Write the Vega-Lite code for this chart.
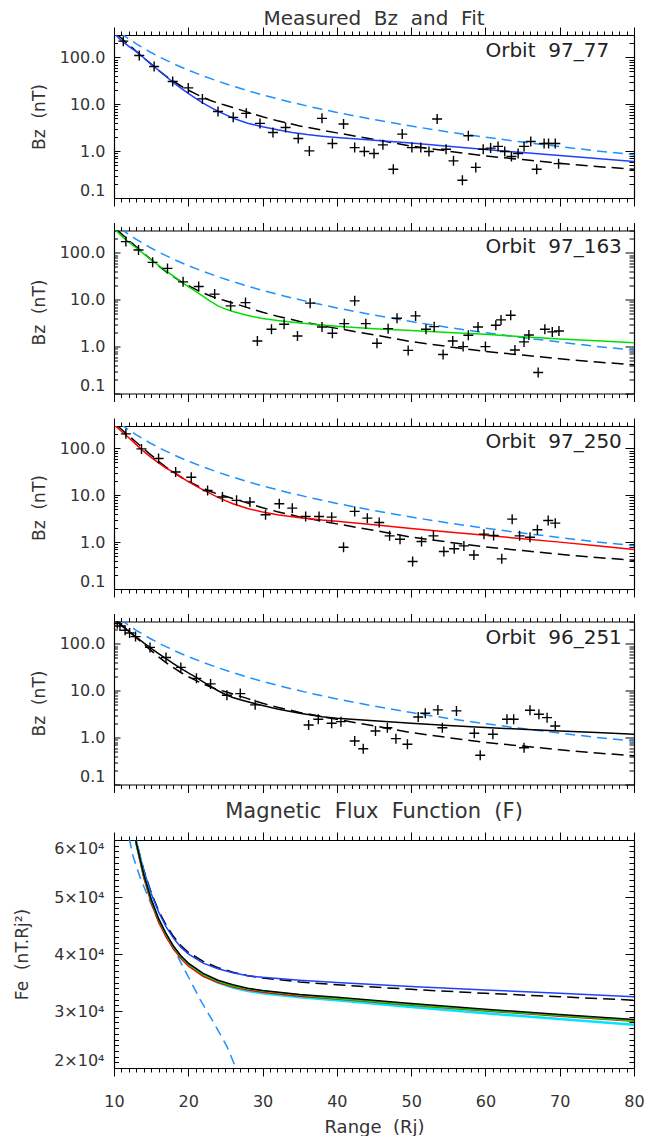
{
  "$schema": "https://vega.github.io/schema/vega-lite/v6.json",
  "padding": {"left": 12, "top": 8, "right": 5, "bottom": 0},
  "background": "white",
  "config": {
    "view": {"stroke": null},
    "font": "DejaVu Sans",
    "axis": {"domainColor": "#000", "domainWidth": 1.2, "tickColor": "#000", "tickWidth": 1, "labelFont": "DejaVu Sans", "labelFontSize": 16, "labelColor": "#333", "titleFont": "DejaVu Sans", "titleFontSize": 17, "titleFontWeight": "normal", "titleColor": "#333", "grid": false, "labelOverlap": false, "labelBound": false},
    "title": {"font": "DejaVu Sans", "fontWeight": "normal", "color": "#333"}
  },
  "datasets": {
    "dip": [
      {"r": 10.8, "b": 339.8}, {"r": 11, "b": 321.6}, {"r": 11.5, "b": 281.4}, {"r": 12, "b": 247.7}, {"r": 13, "b": 194.8}, {"r": 14, "b": 156.0}, {"r": 15, "b": 126.8}, {"r": 16, "b": 104.5}, {"r": 17, "b": 87.1}, {"r": 18, "b": 73.4}, {"r": 19, "b": 62.4}, {"r": 20, "b": 53.5}, {"r": 22, "b": 40.2}, {"r": 24, "b": 30.96}, {"r": 26, "b": 24.35}, {"r": 28, "b": 19.5}, {"r": 30, "b": 15.85}, {"r": 33, "b": 11.91}, {"r": 36, "b": 9.17}, {"r": 40, "b": 6.69}, {"r": 45, "b": 4.7}, {"r": 50, "b": 3.42}, {"r": 55, "b": 2.57}, {"r": 60, "b": 1.98}, {"r": 65, "b": 1.56}, {"r": 70, "b": 1.25}, {"r": 75, "b": 1.01}, {"r": 80, "b": 0.836}
    ],
    "mod": [
      {"r": 10.5, "b": 300}, {"r": 11, "b": 255}, {"r": 12, "b": 185}, {"r": 13, "b": 135}, {"r": 14, "b": 98}, {"r": 15, "b": 72}, {"r": 16, "b": 53}, {"r": 17, "b": 40}, {"r": 18, "b": 31}, {"r": 19, "b": 24.5}, {"r": 20, "b": 20}, {"r": 21, "b": 16.6}, {"r": 22, "b": 14}, {"r": 23, "b": 12}, {"r": 24, "b": 10.6}, {"r": 25, "b": 9.5}, {"r": 26, "b": 8.5}, {"r": 28, "b": 6.8}, {"r": 30, "b": 5.4}, {"r": 32, "b": 4.45}, {"r": 35, "b": 3.45}, {"r": 38, "b": 2.8}, {"r": 40, "b": 2.45}, {"r": 45, "b": 1.78}, {"r": 50, "b": 1.28}, {"r": 55, "b": 1.0}, {"r": 60, "b": 0.79}, {"r": 65, "b": 0.66}, {"r": 70, "b": 0.55}, {"r": 75, "b": 0.47}, {"r": 80, "b": 0.41}
    ],
    "fit": [
      {"o": "97_77", "r": 10, "b": 330}, {"o": "97_77", "r": 11, "b": 227}, {"o": "97_77", "r": 12, "b": 171}, {"o": "97_77", "r": 13, "b": 132}, {"o": "97_77", "r": 14, "b": 98}, {"o": "97_77", "r": 15, "b": 72}, {"o": "97_77", "r": 16, "b": 53}, {"o": "97_77", "r": 17, "b": 39}, {"o": "97_77", "r": 18, "b": 29}, {"o": "97_77", "r": 19, "b": 22}, {"o": "97_77", "r": 20, "b": 17}, {"o": "97_77", "r": 21, "b": 13.3}, {"o": "97_77", "r": 22, "b": 10.6}, {"o": "97_77", "r": 23, "b": 8.6}, {"o": "97_77", "r": 24, "b": 7.1}, {"o": "97_77", "r": 25, "b": 6.0}, {"o": "97_77", "r": 26, "b": 5.1}, {"o": "97_77", "r": 27, "b": 4.45}, {"o": "97_77", "r": 28, "b": 3.95}, {"o": "97_77", "r": 29, "b": 3.6}, {"o": "97_77", "r": 30, "b": 3.3}, {"o": "97_77", "r": 32, "b": 2.85}, {"o": "97_77", "r": 34, "b": 2.5}, {"o": "97_77", "r": 36, "b": 2.25}, {"o": "97_77", "r": 38, "b": 2.08}, {"o": "97_77", "r": 40, "b": 1.95}, {"o": "97_77", "r": 45, "b": 1.71}, {"o": "97_77", "r": 50, "b": 1.49}, {"o": "97_77", "r": 55, "b": 1.27}, {"o": "97_77", "r": 60, "b": 1.08}, {"o": "97_77", "r": 65, "b": 0.93}, {"o": "97_77", "r": 70, "b": 0.81}, {"o": "97_77", "r": 75, "b": 0.7}, {"o": "97_77", "r": 80, "b": 0.6},
      {"o": "97_163", "r": 10, "b": 330}, {"o": "97_163", "r": 11, "b": 230}, {"o": "97_163", "r": 12, "b": 170}, {"o": "97_163", "r": 13, "b": 127}, {"o": "97_163", "r": 14, "b": 95}, {"o": "97_163", "r": 15, "b": 71}, {"o": "97_163", "r": 16, "b": 54}, {"o": "97_163", "r": 17, "b": 41.5}, {"o": "97_163", "r": 18, "b": 32}, {"o": "97_163", "r": 19, "b": 24.5}, {"o": "97_163", "r": 20, "b": 19}, {"o": "97_163", "r": 21, "b": 15}, {"o": "97_163", "r": 22, "b": 11.8}, {"o": "97_163", "r": 23, "b": 9.2}, {"o": "97_163", "r": 24, "b": 7.4}, {"o": "97_163", "r": 25, "b": 6.3}, {"o": "97_163", "r": 26, "b": 5.6}, {"o": "97_163", "r": 28, "b": 4.6}, {"o": "97_163", "r": 30, "b": 4.0}, {"o": "97_163", "r": 32, "b": 3.6}, {"o": "97_163", "r": 35, "b": 3.2}, {"o": "97_163", "r": 38, "b": 2.88}, {"o": "97_163", "r": 40, "b": 2.72}, {"o": "97_163", "r": 45, "b": 2.42}, {"o": "97_163", "r": 50, "b": 2.2}, {"o": "97_163", "r": 55, "b": 2.0}, {"o": "97_163", "r": 60, "b": 1.83}, {"o": "97_163", "r": 65, "b": 1.63}, {"o": "97_163", "r": 70, "b": 1.46}, {"o": "97_163", "r": 75, "b": 1.33}, {"o": "97_163", "r": 80, "b": 1.21},
      {"o": "97_250", "r": 10, "b": 320}, {"o": "97_250", "r": 11, "b": 232}, {"o": "97_250", "r": 12, "b": 168}, {"o": "97_250", "r": 13, "b": 120}, {"o": "97_250", "r": 14, "b": 86}, {"o": "97_250", "r": 15, "b": 64}, {"o": "97_250", "r": 16, "b": 49}, {"o": "97_250", "r": 17, "b": 38}, {"o": "97_250", "r": 18, "b": 31}, {"o": "97_250", "r": 19, "b": 24.5}, {"o": "97_250", "r": 20, "b": 19.5}, {"o": "97_250", "r": 21, "b": 15.8}, {"o": "97_250", "r": 22, "b": 13}, {"o": "97_250", "r": 23, "b": 10.8}, {"o": "97_250", "r": 24, "b": 9.0}, {"o": "97_250", "r": 25, "b": 7.7}, {"o": "97_250", "r": 26, "b": 6.6}, {"o": "97_250", "r": 28, "b": 5.2}, {"o": "97_250", "r": 30, "b": 4.4}, {"o": "97_250", "r": 32, "b": 3.85}, {"o": "97_250", "r": 35, "b": 3.3}, {"o": "97_250", "r": 38, "b": 2.95}, {"o": "97_250", "r": 40, "b": 2.8}, {"o": "97_250", "r": 45, "b": 2.35}, {"o": "97_250", "r": 50, "b": 1.96}, {"o": "97_250", "r": 55, "b": 1.65}, {"o": "97_250", "r": 60, "b": 1.4}, {"o": "97_250", "r": 65, "b": 1.18}, {"o": "97_250", "r": 70, "b": 1.0}, {"o": "97_250", "r": 75, "b": 0.84}, {"o": "97_250", "r": 80, "b": 0.7},
      {"o": "96_251", "r": 10, "b": 360}, {"o": "96_251", "r": 11, "b": 245}, {"o": "96_251", "r": 12, "b": 185}, {"o": "96_251", "r": 13, "b": 140}, {"o": "96_251", "r": 14, "b": 105}, {"o": "96_251", "r": 15, "b": 80}, {"o": "96_251", "r": 16, "b": 62}, {"o": "96_251", "r": 17, "b": 48.5}, {"o": "96_251", "r": 18, "b": 38}, {"o": "96_251", "r": 19, "b": 30}, {"o": "96_251", "r": 20, "b": 24}, {"o": "96_251", "r": 21, "b": 19.5}, {"o": "96_251", "r": 22, "b": 15.5}, {"o": "96_251", "r": 23, "b": 12.4}, {"o": "96_251", "r": 24, "b": 10}, {"o": "96_251", "r": 25, "b": 8.3}, {"o": "96_251", "r": 26, "b": 7.2}, {"o": "96_251", "r": 27, "b": 6.4}, {"o": "96_251", "r": 28, "b": 5.8}, {"o": "96_251", "r": 29, "b": 5.3}, {"o": "96_251", "r": 30, "b": 4.85}, {"o": "96_251", "r": 32, "b": 4.1}, {"o": "96_251", "r": 35, "b": 3.3}, {"o": "96_251", "r": 38, "b": 2.8}, {"o": "96_251", "r": 40, "b": 2.6}, {"o": "96_251", "r": 45, "b": 2.28}, {"o": "96_251", "r": 50, "b": 2.02}, {"o": "96_251", "r": 55, "b": 1.82}, {"o": "96_251", "r": 60, "b": 1.65}, {"o": "96_251", "r": 65, "b": 1.5}, {"o": "96_251", "r": 70, "b": 1.38}, {"o": "96_251", "r": 75, "b": 1.28}, {"o": "96_251", "r": 80, "b": 1.18}
    ],
    "obs": [
      {"o": "97_77", "r": 11.25, "b": 222}, {"o": "97_77", "r": 13.4, "b": 110}, {"o": "97_77", "r": 15.4, "b": 63.8}, {"o": "97_77", "r": 17.9, "b": 30.5}, {"o": "97_77", "r": 20.0, "b": 22.3}, {"o": "97_77", "r": 21.9, "b": 13.0}, {"o": "97_77", "r": 24.0, "b": 7.0}, {"o": "97_77", "r": 26.05, "b": 5.25}, {"o": "97_77", "r": 27.8, "b": 6.4}, {"o": "97_77", "r": 29.65, "b": 3.9}, {"o": "97_77", "r": 31.4, "b": 2.5}, {"o": "97_77", "r": 33.1, "b": 3.2}, {"o": "97_77", "r": 34.8, "b": 1.86}, {"o": "97_77", "r": 36.3, "b": 1.01}, {"o": "97_77", "r": 38.0, "b": 5.0}, {"o": "97_77", "r": 39.4, "b": 1.45}, {"o": "97_77", "r": 40.9, "b": 3.78}, {"o": "97_77", "r": 42.4, "b": 1.19}, {"o": "97_77", "r": 43.7, "b": 0.98}, {"o": "97_77", "r": 45.0, "b": 0.89}, {"o": "97_77", "r": 46.2, "b": 1.36}, {"o": "97_77", "r": 47.6, "b": 0.41}, {"o": "97_77", "r": 48.8, "b": 2.31}, {"o": "97_77", "r": 50.1, "b": 1.19}, {"o": "97_77", "r": 51.3, "b": 1.19}, {"o": "97_77", "r": 52.4, "b": 0.98}, {"o": "97_77", "r": 53.5, "b": 4.84}, {"o": "97_77", "r": 54.7, "b": 1.1}, {"o": "97_77", "r": 55.7, "b": 0.62}, {"o": "97_77", "r": 56.9, "b": 0.24}, {"o": "97_77", "r": 57.7, "b": 2.13}, {"o": "97_77", "r": 58.7, "b": 0.45}, {"o": "97_77", "r": 59.7, "b": 1.1}, {"o": "97_77", "r": 60.7, "b": 1.16}, {"o": "97_77", "r": 61.7, "b": 1.26}, {"o": "97_77", "r": 62.6, "b": 0.98}, {"o": "97_77", "r": 63.5, "b": 0.77}, {"o": "97_77", "r": 64.4, "b": 0.89}, {"o": "97_77", "r": 65.2, "b": 1.26}, {"o": "97_77", "r": 66.1, "b": 1.61}, {"o": "97_77", "r": 66.9, "b": 0.41}, {"o": "97_77", "r": 67.9, "b": 1.45}, {"o": "97_77", "r": 68.5, "b": 1.45}, {"o": "97_77", "r": 69.4, "b": 1.45}, {"o": "97_77", "r": 69.85, "b": 0.54},
      {"o": "97_163", "r": 11.6, "b": 174}, {"o": "97_163", "r": 13.3, "b": 115}, {"o": "97_163", "r": 15.2, "b": 62.7}, {"o": "97_163", "r": 17.2, "b": 46.6}, {"o": "97_163", "r": 19.3, "b": 24.1}, {"o": "97_163", "r": 21.4, "b": 19.2}, {"o": "97_163", "r": 23.55, "b": 13.2}, {"o": "97_163", "r": 25.7, "b": 7.4}, {"o": "97_163", "r": 27.7, "b": 8.7}, {"o": "97_163", "r": 29.3, "b": 1.32}, {"o": "97_163", "r": 31.2, "b": 2.34}, {"o": "97_163", "r": 32.9, "b": 3.0}, {"o": "97_163", "r": 34.7, "b": 1.69}, {"o": "97_163", "r": 36.4, "b": 8.45}, {"o": "97_163", "r": 38.0, "b": 2.63}, {"o": "97_163", "r": 39.4, "b": 1.93}, {"o": "97_163", "r": 41.0, "b": 3.09}, {"o": "97_163", "r": 42.4, "b": 9.46}, {"o": "97_163", "r": 43.9, "b": 3.09}, {"o": "97_163", "r": 45.4, "b": 1.18}, {"o": "97_163", "r": 46.9, "b": 2.42}, {"o": "97_163", "r": 48.1, "b": 4.04}, {"o": "97_163", "r": 49.6, "b": 0.83}, {"o": "97_163", "r": 50.6, "b": 4.52}, {"o": "97_163", "r": 52.0, "b": 2.34}, {"o": "97_163", "r": 53.1, "b": 2.67}, {"o": "97_163", "r": 54.3, "b": 0.68}, {"o": "97_163", "r": 55.6, "b": 1.32}, {"o": "97_163", "r": 57.0, "b": 1.0}, {"o": "97_163", "r": 57.7, "b": 1.75}, {"o": "97_163", "r": 59.0, "b": 2.63}, {"o": "97_163", "r": 60.0, "b": 1.0}, {"o": "97_163", "r": 61.4, "b": 2.86}, {"o": "97_163", "r": 62.1, "b": 3.72}, {"o": "97_163", "r": 63.4, "b": 4.68}, {"o": "97_163", "r": 63.97, "b": 0.85}, {"o": "97_163", "r": 65.2, "b": 1.26}, {"o": "97_163", "r": 65.85, "b": 1.77}, {"o": "97_163", "r": 67.1, "b": 0.28}, {"o": "97_163", "r": 68.0, "b": 2.34}, {"o": "97_163", "r": 69.0, "b": 2.06}, {"o": "97_163", "r": 69.9, "b": 2.16},
      {"o": "97_250", "r": 11.6, "b": 204}, {"o": "97_250", "r": 13.7, "b": 97.5}, {"o": "97_250", "r": 16.0, "b": 60.8}, {"o": "97_250", "r": 18.3, "b": 31.4}, {"o": "97_250", "r": 20.4, "b": 24.2}, {"o": "97_250", "r": 22.6, "b": 12.6}, {"o": "97_250", "r": 24.6, "b": 9.15}, {"o": "97_250", "r": 26.5, "b": 7.78}, {"o": "97_250", "r": 28.3, "b": 7.15}, {"o": "97_250", "r": 30.4, "b": 3.85}, {"o": "97_250", "r": 32.25, "b": 6.6}, {"o": "97_250", "r": 34.0, "b": 5.3}, {"o": "97_250", "r": 35.8, "b": 3.53}, {"o": "97_250", "r": 37.6, "b": 3.53}, {"o": "97_250", "r": 39.3, "b": 3.41}, {"o": "97_250", "r": 40.9, "b": 0.78}, {"o": "97_250", "r": 42.4, "b": 4.52}, {"o": "97_250", "r": 44.1, "b": 3.25}, {"o": "97_250", "r": 45.7, "b": 2.63}, {"o": "97_250", "r": 47.1, "b": 1.36}, {"o": "97_250", "r": 48.5, "b": 1.15}, {"o": "97_250", "r": 50.2, "b": 0.385}, {"o": "97_250", "r": 51.4, "b": 1.03}, {"o": "97_250", "r": 53.0, "b": 1.36}, {"o": "97_250", "r": 54.4, "b": 0.63}, {"o": "97_250", "r": 55.8, "b": 0.72}, {"o": "97_250", "r": 57.1, "b": 0.83}, {"o": "97_250", "r": 58.45, "b": 0.53}, {"o": "97_250", "r": 59.8, "b": 1.48}, {"o": "97_250", "r": 61.1, "b": 1.38}, {"o": "97_250", "r": 62.2, "b": 0.44}, {"o": "97_250", "r": 63.6, "b": 3.09}, {"o": "97_250", "r": 64.6, "b": 1.36}, {"o": "97_250", "r": 66.0, "b": 1.27}, {"o": "97_250", "r": 67.0, "b": 1.83}, {"o": "97_250", "r": 68.45, "b": 2.9}, {"o": "97_250", "r": 69.4, "b": 2.54},
      {"o": "96_251", "r": 10.45, "b": 270}, {"o": "96_251", "r": 10.8, "b": 240}, {"o": "96_251", "r": 11.5, "b": 195}, {"o": "96_251", "r": 12.1, "b": 170}, {"o": "96_251", "r": 12.9, "b": 143}, {"o": "96_251", "r": 14.85, "b": 84}, {"o": "96_251", "r": 17.0, "b": 51}, {"o": "96_251", "r": 19.0, "b": 31.5}, {"o": "96_251", "r": 21.1, "b": 18.4}, {"o": "96_251", "r": 23.0, "b": 14.0}, {"o": "96_251", "r": 25.2, "b": 8.0}, {"o": "96_251", "r": 27.0, "b": 8.7}, {"o": "96_251", "r": 29.0, "b": 5.0}, {"o": "96_251", "r": 36.2, "b": 1.86}, {"o": "96_251", "r": 37.5, "b": 2.47}, {"o": "96_251", "r": 39.3, "b": 2.02}, {"o": "96_251", "r": 40.55, "b": 2.19}, {"o": "96_251", "r": 42.4, "b": 0.85}, {"o": "96_251", "r": 43.55, "b": 0.58}, {"o": "96_251", "r": 45.2, "b": 1.38}, {"o": "96_251", "r": 46.8, "b": 1.63}, {"o": "96_251", "r": 47.95, "b": 0.95}, {"o": "96_251", "r": 49.5, "b": 0.72}, {"o": "96_251", "r": 50.95, "b": 2.76}, {"o": "96_251", "r": 51.9, "b": 3.31}, {"o": "96_251", "r": 53.6, "b": 3.9}, {"o": "96_251", "r": 54.2, "b": 1.63}, {"o": "96_251", "r": 56.1, "b": 3.72}, {"o": "96_251", "r": 58.5, "b": 1.24}, {"o": "96_251", "r": 59.3, "b": 0.42}, {"o": "96_251", "r": 61.0, "b": 1.18}, {"o": "96_251", "r": 62.9, "b": 2.47}, {"o": "96_251", "r": 63.8, "b": 2.47}, {"o": "96_251", "r": 65.2, "b": 0.61}, {"o": "96_251", "r": 66.0, "b": 3.85}, {"o": "96_251", "r": 67.2, "b": 3.16}, {"o": "96_251", "r": 68.3, "b": 2.67}, {"o": "96_251", "r": 69.4, "b": 1.77}
    ],
    "fe": [
      {"s": "dip", "r": 11.6, "f": 63000}, {"s": "dip", "r": 12, "f": 60500}, {"s": "dip", "r": 12.6, "f": 57000}, {"s": "dip", "r": 13.5, "f": 53500}, {"s": "dip", "r": 14.6, "f": 50000}, {"s": "dip", "r": 15.75, "f": 46500}, {"s": "dip", "r": 17.1, "f": 43000}, {"s": "dip", "r": 18.4, "f": 40000}, {"s": "dip", "r": 19.8, "f": 36500}, {"s": "dip", "r": 21.6, "f": 32000}, {"s": "dip", "r": 23.4, "f": 28000}, {"s": "dip", "r": 25.2, "f": 23800}, {"s": "dip", "r": 26.4, "f": 20000}, {"s": "dip", "r": 27.5, "f": 17500},
      {"s": "mod", "r": 12.7, "f": 62000}, {"s": "mod", "r": 13, "f": 59800}, {"s": "mod", "r": 14, "f": 54800}, {"s": "mod", "r": 15, "f": 50800}, {"s": "mod", "r": 16, "f": 47600}, {"s": "mod", "r": 17, "f": 45100}, {"s": "mod", "r": 18, "f": 43100}, {"s": "mod", "r": 19, "f": 41500}, {"s": "mod", "r": 20, "f": 40300}, {"s": "mod", "r": 22, "f": 38700}, {"s": "mod", "r": 24, "f": 37600}, {"s": "mod", "r": 26, "f": 36800}, {"s": "mod", "r": 28, "f": 36200}, {"s": "mod", "r": 30, "f": 35800}, {"s": "mod", "r": 35, "f": 35100}, {"s": "mod", "r": 40, "f": 34600}, {"s": "mod", "r": 50, "f": 33800}, {"s": "mod", "r": 60, "f": 33100}, {"s": "mod", "r": 70, "f": 32500}, {"s": "mod", "r": 80, "f": 31900},
      {"s": "97_77", "r": 12.7, "f": 62000}, {"s": "97_77", "r": 13, "f": 59800}, {"s": "97_77", "r": 14, "f": 54700}, {"s": "97_77", "r": 15, "f": 50600}, {"s": "97_77", "r": 16, "f": 47400}, {"s": "97_77", "r": 17, "f": 44800}, {"s": "97_77", "r": 18, "f": 42800}, {"s": "97_77", "r": 19, "f": 41200}, {"s": "97_77", "r": 20, "f": 40000}, {"s": "97_77", "r": 22, "f": 38400}, {"s": "97_77", "r": 24, "f": 37400}, {"s": "97_77", "r": 26, "f": 36700}, {"s": "97_77", "r": 28, "f": 36200}, {"s": "97_77", "r": 30, "f": 35900}, {"s": "97_77", "r": 35, "f": 35400}, {"s": "97_77", "r": 40, "f": 35000}, {"s": "97_77", "r": 50, "f": 34300}, {"s": "97_77", "r": 60, "f": 33700}, {"s": "97_77", "r": 70, "f": 33100}, {"s": "97_77", "r": 80, "f": 32500},
      {"s": "96_251", "r": 12.7, "f": 62000}, {"s": "96_251", "r": 13, "f": 59500}, {"s": "96_251", "r": 14, "f": 54000}, {"s": "96_251", "r": 15, "f": 49600}, {"s": "96_251", "r": 16, "f": 46200}, {"s": "96_251", "r": 17, "f": 43600}, {"s": "96_251", "r": 18, "f": 41400}, {"s": "96_251", "r": 19, "f": 39700}, {"s": "96_251", "r": 20, "f": 38400}, {"s": "96_251", "r": 22, "f": 36600}, {"s": "96_251", "r": 24, "f": 35400}, {"s": "96_251", "r": 26, "f": 34600}, {"s": "96_251", "r": 28, "f": 34000}, {"s": "96_251", "r": 30, "f": 33600}, {"s": "96_251", "r": 35, "f": 32900}, {"s": "96_251", "r": 40, "f": 32400}, {"s": "96_251", "r": 50, "f": 31300}, {"s": "96_251", "r": 60, "f": 30300}, {"s": "96_251", "r": 70, "f": 29400}, {"s": "96_251", "r": 80, "f": 28500},
      {"s": "97_163", "r": 12.7, "f": 62000}, {"s": "97_163", "r": 13, "f": 59400}, {"s": "97_163", "r": 14, "f": 53800}, {"s": "97_163", "r": 15, "f": 49400}, {"s": "97_163", "r": 16, "f": 46000}, {"s": "97_163", "r": 17, "f": 43400}, {"s": "97_163", "r": 18, "f": 41200}, {"s": "97_163", "r": 19, "f": 39500}, {"s": "97_163", "r": 20, "f": 38200}, {"s": "97_163", "r": 22, "f": 36400}, {"s": "97_163", "r": 24, "f": 35200}, {"s": "97_163", "r": 26, "f": 34400}, {"s": "97_163", "r": 28, "f": 33900}, {"s": "97_163", "r": 30, "f": 33500}, {"s": "97_163", "r": 35, "f": 32800}, {"s": "97_163", "r": 40, "f": 32200}, {"s": "97_163", "r": 50, "f": 31100}, {"s": "97_163", "r": 60, "f": 30100}, {"s": "97_163", "r": 70, "f": 29200}, {"s": "97_163", "r": 80, "f": 28300},
      {"s": "97_250", "r": 12.7, "f": 62000}, {"s": "97_250", "r": 13, "f": 59200}, {"s": "97_250", "r": 14, "f": 53400}, {"s": "97_250", "r": 15, "f": 49000}, {"s": "97_250", "r": 16, "f": 45600}, {"s": "97_250", "r": 17, "f": 43000}, {"s": "97_250", "r": 18, "f": 40900}, {"s": "97_250", "r": 19, "f": 39200}, {"s": "97_250", "r": 20, "f": 37900}, {"s": "97_250", "r": 22, "f": 36100}, {"s": "97_250", "r": 24, "f": 35000}, {"s": "97_250", "r": 26, "f": 34200}, {"s": "97_250", "r": 28, "f": 33700}, {"s": "97_250", "r": 30, "f": 33300}, {"s": "97_250", "r": 35, "f": 32600}, {"s": "97_250", "r": 40, "f": 32100}, {"s": "97_250", "r": 50, "f": 31000}, {"s": "97_250", "r": 60, "f": 30000}, {"s": "97_250", "r": 70, "f": 29100}, {"s": "97_250", "r": 80, "f": 28200},
      {"s": "cyan", "r": 12.7, "f": 62000}, {"s": "cyan", "r": 13, "f": 59500}, {"s": "cyan", "r": 14, "f": 53900}, {"s": "cyan", "r": 15, "f": 49500}, {"s": "cyan", "r": 16, "f": 46100}, {"s": "cyan", "r": 17, "f": 43400}, {"s": "cyan", "r": 18, "f": 41200}, {"s": "cyan", "r": 19, "f": 39500}, {"s": "cyan", "r": 20, "f": 38100}, {"s": "cyan", "r": 22, "f": 36200}, {"s": "cyan", "r": 24, "f": 35000}, {"s": "cyan", "r": 26, "f": 34100}, {"s": "cyan", "r": 28, "f": 33500}, {"s": "cyan", "r": 30, "f": 33100}, {"s": "cyan", "r": 35, "f": 32400}, {"s": "cyan", "r": 40, "f": 31900}, {"s": "cyan", "r": 50, "f": 30700}, {"s": "cyan", "r": 60, "f": 29600}, {"s": "cyan", "r": 70, "f": 28600}, {"s": "cyan", "r": 80, "f": 27600}
    ]
  },
  "vconcat": [
    {
      "bounds": "flush",
      "spacing": 32.5,
      "vconcat": [
        {
          "width": 520, "height": 163,
          "title": {"text": "Measured\u00a0\u00a0Bz\u00a0\u00a0and\u00a0\u00a0Fit", "fontSize": 20, "anchor": "middle", "frame": "group", "baseline": "alphabetic", "offset": -18},
          "resolve": {"axis": {"x": "independent", "y": "independent"}},
          "layer": [
            {"data": {"name": "dip"}, "mark": {"type": "line", "clip": true, "color": "#1e90ff", "strokeDash": [10, 6], "strokeWidth": 1.5},
             "encoding": {
               "x": {"field": "r", "type": "quantitative", "scale": {"domain": [10, 80], "nice": false, "zero": false}, "axis": {"orient": "bottom", "values": [10,11,12,13,14,15,16,17,18,19,20,21,22,23,24,25,26,27,28,29,30,31,32,33,34,35,36,37,38,39,40,41,42,43,44,45,46,47,48,49,50,51,52,53,54,55,56,57,58,59,60,61,62,63,64,65,66,67,68,69,70,71,72,73,74,75,76,77,78,79,80], "labels": false, "title": null, "tickSize": {"condition": {"test": "datum.value % 10 === 0", "value": 8}, "value": 4}}},
               "y": {"field": "b", "type": "quantitative", "scale": {"type": "log", "domain": [0.1, 300], "nice": false}, "axis": {"orient": "left", "values": [0.1,0.2,0.3,0.4,0.5,0.6,0.7,0.8,0.9,1,2,3,4,5,6,7,8,9,10,20,30,40,50,60,70,80,90,100,200,300], "labelExpr": "indexof([0.1,1,10,100], datum.value) >= 0 ? format(datum.value, '.1f') : ''", "labelFlush": true, "labelPadding": 15, "tickSize": {"condition": {"test": "indexof([0.1,1,10,100], datum.value) >= 0", "value": -6}, "value": -3.5}, "title": "Bz\u00a0\u00a0(nT)", "titleX": -70, "titleBaseline": "alphabetic"}}
             }},
            {"data": {"name": "mod"}, "mark": {"type": "line", "clip": true, "color": "#000", "strokeDash": [12, 6], "strokeWidth": 1.5},
             "encoding": {"x": {"field": "r", "type": "quantitative", "axis": null}, "y": {"field": "b", "type": "quantitative", "axis": null}}},
            {"data": {"name": "fit"}, "transform": [{"filter": "datum.o === '97_77'"}], "mark": {"type": "line", "clip": true, "color": "#2040ff", "strokeWidth": 1.5},
             "encoding": {"x": {"field": "r", "type": "quantitative", "axis": null}, "y": {"field": "b", "type": "quantitative", "axis": null}}},
            {"data": {"name": "obs"}, "transform": [{"filter": "datum.o === '97_77'"}], "mark": {"type": "point", "shape": "M-1,0L1,0M0,-1L0,1", "size": 100, "filled": false, "stroke": "#000", "strokeWidth": 1.4, "opacity": 1, "clip": true},
             "encoding": {
               "x": {"field": "r", "type": "quantitative", "axis": {"orient": "top", "values": [10,11,12,13,14,15,16,17,18,19,20,21,22,23,24,25,26,27,28,29,30,31,32,33,34,35,36,37,38,39,40,41,42,43,44,45,46,47,48,49,50,51,52,53,54,55,56,57,58,59,60,61,62,63,64,65,66,67,68,69,70,71,72,73,74,75,76,77,78,79,80], "labels": false, "title": null, "tickSize": {"condition": {"test": "datum.value % 10 === 0", "value": 8}, "value": 4}}},
               "y": {"field": "b", "type": "quantitative", "axis": {"orient": "right", "values": [0.1,0.2,0.3,0.4,0.5,0.6,0.7,0.8,0.9,1,2,3,4,5,6,7,8,9,10,20,30,40,50,60,70,80,90,100,200,300], "labels": false, "title": null, "tickSize": {"condition": {"test": "indexof([0.1,1,10,100], datum.value) >= 0", "value": -9}, "value": -5}}}
             }},
            {"data": {"values": [{"r": 60, "b": 100, "t": "Orbit\u00a0\u00a097_77"}]}, "mark": {"type": "text", "align": "left", "baseline": "alphabetic", "fontSize": 20, "font": "DejaVu Sans", "color": "#222"},
             "encoding": {"x": {"field": "r", "type": "quantitative", "axis": null}, "y": {"field": "b", "type": "quantitative", "axis": null}, "text": {"field": "t"}}}
          ]
        },
        {
          "width": 520, "height": 163,
          "resolve": {"axis": {"x": "independent", "y": "independent"}},
          "layer": [
            {"data": {"name": "dip"}, "mark": {"type": "line", "clip": true, "color": "#1e90ff", "strokeDash": [10, 6], "strokeWidth": 1.5},
             "encoding": {
               "x": {"field": "r", "type": "quantitative", "scale": {"domain": [10, 80], "nice": false, "zero": false}, "axis": {"orient": "bottom", "values": [10,11,12,13,14,15,16,17,18,19,20,21,22,23,24,25,26,27,28,29,30,31,32,33,34,35,36,37,38,39,40,41,42,43,44,45,46,47,48,49,50,51,52,53,54,55,56,57,58,59,60,61,62,63,64,65,66,67,68,69,70,71,72,73,74,75,76,77,78,79,80], "labels": false, "title": null, "tickSize": {"condition": {"test": "datum.value % 10 === 0", "value": 8}, "value": 4}}},
               "y": {"field": "b", "type": "quantitative", "scale": {"type": "log", "domain": [0.1, 300], "nice": false}, "axis": {"orient": "left", "values": [0.1,0.2,0.3,0.4,0.5,0.6,0.7,0.8,0.9,1,2,3,4,5,6,7,8,9,10,20,30,40,50,60,70,80,90,100,200,300], "labelExpr": "indexof([0.1,1,10,100], datum.value) >= 0 ? format(datum.value, '.1f') : ''", "labelFlush": true, "labelPadding": 15, "tickSize": {"condition": {"test": "indexof([0.1,1,10,100], datum.value) >= 0", "value": -6}, "value": -3.5}, "title": "Bz\u00a0\u00a0(nT)", "titleX": -70, "titleBaseline": "alphabetic"}}
             }},
            {"data": {"name": "mod"}, "mark": {"type": "line", "clip": true, "color": "#000", "strokeDash": [12, 6], "strokeWidth": 1.5},
             "encoding": {"x": {"field": "r", "type": "quantitative", "axis": null}, "y": {"field": "b", "type": "quantitative", "axis": null}}},
            {"data": {"name": "fit"}, "transform": [{"filter": "datum.o === '97_163'"}], "mark": {"type": "line", "clip": true, "color": "#00e000", "strokeWidth": 1.5},
             "encoding": {"x": {"field": "r", "type": "quantitative", "axis": null}, "y": {"field": "b", "type": "quantitative", "axis": null}}},
            {"data": {"name": "obs"}, "transform": [{"filter": "datum.o === '97_163'"}], "mark": {"type": "point", "shape": "M-1,0L1,0M0,-1L0,1", "size": 100, "filled": false, "stroke": "#000", "strokeWidth": 1.4, "opacity": 1, "clip": true},
             "encoding": {
               "x": {"field": "r", "type": "quantitative", "axis": {"orient": "top", "values": [10,11,12,13,14,15,16,17,18,19,20,21,22,23,24,25,26,27,28,29,30,31,32,33,34,35,36,37,38,39,40,41,42,43,44,45,46,47,48,49,50,51,52,53,54,55,56,57,58,59,60,61,62,63,64,65,66,67,68,69,70,71,72,73,74,75,76,77,78,79,80], "labels": false, "title": null, "tickSize": {"condition": {"test": "datum.value % 10 === 0", "value": 8}, "value": 4}}},
               "y": {"field": "b", "type": "quantitative", "axis": {"orient": "right", "values": [0.1,0.2,0.3,0.4,0.5,0.6,0.7,0.8,0.9,1,2,3,4,5,6,7,8,9,10,20,30,40,50,60,70,80,90,100,200,300], "labels": false, "title": null, "tickSize": {"condition": {"test": "indexof([0.1,1,10,100], datum.value) >= 0", "value": -9}, "value": -5}}}
             }},
            {"data": {"values": [{"r": 60, "b": 100, "t": "Orbit\u00a0\u00a097_163"}]}, "mark": {"type": "text", "align": "left", "baseline": "alphabetic", "fontSize": 20, "font": "DejaVu Sans", "color": "#222"},
             "encoding": {"x": {"field": "r", "type": "quantitative", "axis": null}, "y": {"field": "b", "type": "quantitative", "axis": null}, "text": {"field": "t"}}}
          ]
        },
        {
          "width": 520, "height": 163,
          "resolve": {"axis": {"x": "independent", "y": "independent"}},
          "layer": [
            {"data": {"name": "dip"}, "mark": {"type": "line", "clip": true, "color": "#1e90ff", "strokeDash": [10, 6], "strokeWidth": 1.5},
             "encoding": {
               "x": {"field": "r", "type": "quantitative", "scale": {"domain": [10, 80], "nice": false, "zero": false}, "axis": {"orient": "bottom", "values": [10,11,12,13,14,15,16,17,18,19,20,21,22,23,24,25,26,27,28,29,30,31,32,33,34,35,36,37,38,39,40,41,42,43,44,45,46,47,48,49,50,51,52,53,54,55,56,57,58,59,60,61,62,63,64,65,66,67,68,69,70,71,72,73,74,75,76,77,78,79,80], "labels": false, "title": null, "tickSize": {"condition": {"test": "datum.value % 10 === 0", "value": 8}, "value": 4}}},
               "y": {"field": "b", "type": "quantitative", "scale": {"type": "log", "domain": [0.1, 300], "nice": false}, "axis": {"orient": "left", "values": [0.1,0.2,0.3,0.4,0.5,0.6,0.7,0.8,0.9,1,2,3,4,5,6,7,8,9,10,20,30,40,50,60,70,80,90,100,200,300], "labelExpr": "indexof([0.1,1,10,100], datum.value) >= 0 ? format(datum.value, '.1f') : ''", "labelFlush": true, "labelPadding": 15, "tickSize": {"condition": {"test": "indexof([0.1,1,10,100], datum.value) >= 0", "value": -6}, "value": -3.5}, "title": "Bz\u00a0\u00a0(nT)", "titleX": -70, "titleBaseline": "alphabetic"}}
             }},
            {"data": {"name": "mod"}, "mark": {"type": "line", "clip": true, "color": "#000", "strokeDash": [12, 6], "strokeWidth": 1.5},
             "encoding": {"x": {"field": "r", "type": "quantitative", "axis": null}, "y": {"field": "b", "type": "quantitative", "axis": null}}},
            {"data": {"name": "fit"}, "transform": [{"filter": "datum.o === '97_250'"}], "mark": {"type": "line", "clip": true, "color": "#ff0000", "strokeWidth": 1.5},
             "encoding": {"x": {"field": "r", "type": "quantitative", "axis": null}, "y": {"field": "b", "type": "quantitative", "axis": null}}},
            {"data": {"name": "obs"}, "transform": [{"filter": "datum.o === '97_250'"}], "mark": {"type": "point", "shape": "M-1,0L1,0M0,-1L0,1", "size": 100, "filled": false, "stroke": "#000", "strokeWidth": 1.4, "opacity": 1, "clip": true},
             "encoding": {
               "x": {"field": "r", "type": "quantitative", "axis": {"orient": "top", "values": [10,11,12,13,14,15,16,17,18,19,20,21,22,23,24,25,26,27,28,29,30,31,32,33,34,35,36,37,38,39,40,41,42,43,44,45,46,47,48,49,50,51,52,53,54,55,56,57,58,59,60,61,62,63,64,65,66,67,68,69,70,71,72,73,74,75,76,77,78,79,80], "labels": false, "title": null, "tickSize": {"condition": {"test": "datum.value % 10 === 0", "value": 8}, "value": 4}}},
               "y": {"field": "b", "type": "quantitative", "axis": {"orient": "right", "values": [0.1,0.2,0.3,0.4,0.5,0.6,0.7,0.8,0.9,1,2,3,4,5,6,7,8,9,10,20,30,40,50,60,70,80,90,100,200,300], "labels": false, "title": null, "tickSize": {"condition": {"test": "indexof([0.1,1,10,100], datum.value) >= 0", "value": -9}, "value": -5}}}
             }},
            {"data": {"values": [{"r": 60, "b": 100, "t": "Orbit\u00a0\u00a097_250"}]}, "mark": {"type": "text", "align": "left", "baseline": "alphabetic", "fontSize": 20, "font": "DejaVu Sans", "color": "#222"},
             "encoding": {"x": {"field": "r", "type": "quantitative", "axis": null}, "y": {"field": "b", "type": "quantitative", "axis": null}, "text": {"field": "t"}}}
          ]
        },
        {
          "width": 520, "height": 163,
          "resolve": {"axis": {"x": "independent", "y": "independent"}},
          "layer": [
            {"data": {"name": "dip"}, "mark": {"type": "line", "clip": true, "color": "#1e90ff", "strokeDash": [10, 6], "strokeWidth": 1.5},
             "encoding": {
               "x": {"field": "r", "type": "quantitative", "scale": {"domain": [10, 80], "nice": false, "zero": false}, "axis": {"orient": "bottom", "values": [10,11,12,13,14,15,16,17,18,19,20,21,22,23,24,25,26,27,28,29,30,31,32,33,34,35,36,37,38,39,40,41,42,43,44,45,46,47,48,49,50,51,52,53,54,55,56,57,58,59,60,61,62,63,64,65,66,67,68,69,70,71,72,73,74,75,76,77,78,79,80], "labels": false, "title": null, "tickSize": {"condition": {"test": "datum.value % 10 === 0", "value": 8}, "value": 4}}},
               "y": {"field": "b", "type": "quantitative", "scale": {"type": "log", "domain": [0.1, 300], "nice": false}, "axis": {"orient": "left", "values": [0.1,0.2,0.3,0.4,0.5,0.6,0.7,0.8,0.9,1,2,3,4,5,6,7,8,9,10,20,30,40,50,60,70,80,90,100,200,300], "labelExpr": "indexof([0.1,1,10,100], datum.value) >= 0 ? format(datum.value, '.1f') : ''", "labelFlush": true, "labelPadding": 15, "tickSize": {"condition": {"test": "indexof([0.1,1,10,100], datum.value) >= 0", "value": -6}, "value": -3.5}, "title": "Bz\u00a0\u00a0(nT)", "titleX": -70, "titleBaseline": "alphabetic"}}
             }},
            {"data": {"name": "mod"}, "mark": {"type": "line", "clip": true, "color": "#000", "strokeDash": [12, 6], "strokeWidth": 1.5},
             "encoding": {"x": {"field": "r", "type": "quantitative", "axis": null}, "y": {"field": "b", "type": "quantitative", "axis": null}}},
            {"data": {"name": "fit"}, "transform": [{"filter": "datum.o === '96_251'"}], "mark": {"type": "line", "clip": true, "color": "#000", "strokeWidth": 1.5},
             "encoding": {"x": {"field": "r", "type": "quantitative", "axis": null}, "y": {"field": "b", "type": "quantitative", "axis": null}}},
            {"data": {"name": "obs"}, "transform": [{"filter": "datum.o === '96_251'"}], "mark": {"type": "point", "shape": "M-1,0L1,0M0,-1L0,1", "size": 100, "filled": false, "stroke": "#000", "strokeWidth": 1.4, "opacity": 1, "clip": true},
             "encoding": {
               "x": {"field": "r", "type": "quantitative", "axis": {"orient": "top", "values": [10,11,12,13,14,15,16,17,18,19,20,21,22,23,24,25,26,27,28,29,30,31,32,33,34,35,36,37,38,39,40,41,42,43,44,45,46,47,48,49,50,51,52,53,54,55,56,57,58,59,60,61,62,63,64,65,66,67,68,69,70,71,72,73,74,75,76,77,78,79,80], "labels": false, "title": null, "tickSize": {"condition": {"test": "datum.value % 10 === 0", "value": 8}, "value": 4}}},
               "y": {"field": "b", "type": "quantitative", "axis": {"orient": "right", "values": [0.1,0.2,0.3,0.4,0.5,0.6,0.7,0.8,0.9,1,2,3,4,5,6,7,8,9,10,20,30,40,50,60,70,80,90,100,200,300], "labels": false, "title": null, "tickSize": {"condition": {"test": "indexof([0.1,1,10,100], datum.value) >= 0", "value": -9}, "value": -5}}}
             }},
            {"data": {"values": [{"r": 60, "b": 100, "t": "Orbit\u00a0\u00a096_251"}]}, "mark": {"type": "text", "align": "left", "baseline": "alphabetic", "fontSize": 20, "font": "DejaVu Sans", "color": "#222"},
             "encoding": {"x": {"field": "r", "type": "quantitative", "axis": null}, "y": {"field": "b", "type": "quantitative", "axis": null}, "text": {"field": "t"}}}
          ]
        }
      ]
    },
    {
      "width": 520, "height": 228,
      "title": {"text": "Magnetic\u00a0\u00a0Flux\u00a0\u00a0Function\u00a0\u00a0(F)", "fontSize": 21, "anchor": "middle", "frame": "group", "baseline": "alphabetic", "offset": -7},
      "data": {"name": "fe"},
      "resolve": {"axis": {"x": "independent", "y": "independent"}},
      "layer": [
        {"transform": [{"filter": "datum.s === 'dip'"}], "mark": {"type": "line", "clip": true, "color": "#1e90ff", "strokeDash": [10, 6], "strokeWidth": 1.5},
         "encoding": {
           "x": {"field": "r", "type": "quantitative", "scale": {"domain": [10, 80], "nice": false, "zero": false}, "axis": {"orient": "bottom", "values": [10,11,12,13,14,15,16,17,18,19,20,21,22,23,24,25,26,27,28,29,30,31,32,33,34,35,36,37,38,39,40,41,42,43,44,45,46,47,48,49,50,51,52,53,54,55,56,57,58,59,60,61,62,63,64,65,66,67,68,69,70,71,72,73,74,75,76,77,78,79,80], "labelExpr": "datum.value % 10 === 0 ? datum.label : ''", "labelPadding": 17, "labelFlush": false, "title": "Range\u00a0\u00a0(Rj)", "titleFontSize": 18, "titleY": 64, "titleBaseline": "alphabetic", "tickSize": {"condition": {"test": "datum.value % 10 === 0", "value": 8}, "value": 4}}},
           "y": {"field": "f", "type": "quantitative", "scale": {"domain": [20000, 60000], "nice": false, "zero": false}, "axis": {"orient": "left", "values": [20000,21000,22000,23000,24000,25000,26000,27000,28000,29000,30000,31000,32000,33000,34000,35000,36000,37000,38000,39000,40000,41000,42000,43000,44000,45000,46000,47000,48000,49000,50000,51000,52000,53000,54000,55000,56000,57000,58000,59000,60000], "labelExpr": "datum.value % 10000 === 0 ? (datum.value / 10000) + '×10⁴' : ''", "labelFlush": true, "labelPadding": 18, "tickSize": {"condition": {"test": "datum.value % 10000 === 0", "value": -8}, "value": -4.5}, "title": "Fe\u00a0\u00a0(nT.Rj²)", "titleX": -87, "titleBaseline": "alphabetic"}}
         }},
        {"transform": [{"filter": "datum.s === 'mod'"}], "mark": {"type": "line", "clip": true, "color": "#000", "strokeDash": [12, 6], "strokeWidth": 1.5},
         "encoding": {"x": {"field": "r", "type": "quantitative", "axis": null}, "y": {"field": "f", "type": "quantitative", "axis": null}}},
        {"transform": [{"filter": "datum.s === '97_77'"}], "mark": {"type": "line", "clip": true, "color": "#2040ff", "strokeWidth": 1.5},
         "encoding": {"x": {"field": "r", "type": "quantitative", "axis": null}, "y": {"field": "f", "type": "quantitative", "axis": null}}},
        {"transform": [{"filter": "datum.s === 'cyan'"}], "mark": {"type": "line", "clip": true, "color": "#00e5ff", "strokeWidth": 2.5},
         "encoding": {"x": {"field": "r", "type": "quantitative", "axis": null}, "y": {"field": "f", "type": "quantitative", "axis": null}}},
        {"transform": [{"filter": "datum.s === '97_250'"}], "mark": {"type": "line", "clip": true, "color": "#ff0000", "strokeWidth": 1.5},
         "encoding": {"x": {"field": "r", "type": "quantitative", "axis": null}, "y": {"field": "f", "type": "quantitative", "axis": null}}},
        {"transform": [{"filter": "datum.s === '97_163'"}], "mark": {"type": "line", "clip": true, "color": "#00e000", "strokeWidth": 1.5},
         "encoding": {"x": {"field": "r", "type": "quantitative", "axis": null}, "y": {"field": "f", "type": "quantitative", "axis": null}}},
        {"transform": [{"filter": "datum.s === '96_251'"}], "mark": {"type": "line", "clip": true, "color": "#000", "strokeWidth": 1.5},
         "encoding": {
           "x": {"field": "r", "type": "quantitative", "axis": {"orient": "top", "values": [10,11,12,13,14,15,16,17,18,19,20,21,22,23,24,25,26,27,28,29,30,31,32,33,34,35,36,37,38,39,40,41,42,43,44,45,46,47,48,49,50,51,52,53,54,55,56,57,58,59,60,61,62,63,64,65,66,67,68,69,70,71,72,73,74,75,76,77,78,79,80], "labels": false, "title": null, "tickSize": {"condition": {"test": "datum.value % 10 === 0", "value": 8}, "value": 4}}},
           "y": {"field": "f", "type": "quantitative", "axis": {"orient": "right", "values": [20000,21000,22000,23000,24000,25000,26000,27000,28000,29000,30000,31000,32000,33000,34000,35000,36000,37000,38000,39000,40000,41000,42000,43000,44000,45000,46000,47000,48000,49000,50000,51000,52000,53000,54000,55000,56000,57000,58000,59000,60000], "labels": false, "title": null, "tickSize": {"condition": {"test": "datum.value % 10000 === 0", "value": -9}, "value": -5}}}
         }}
      ]
    }
  ],
  "spacing": 7,
  "bounds": "full"
}
